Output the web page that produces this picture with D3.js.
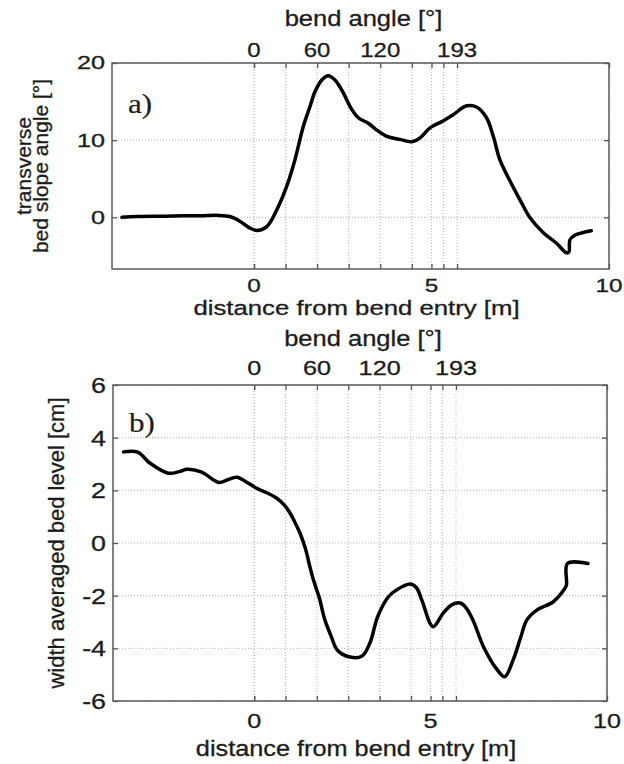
<!DOCTYPE html>
<html>
<head>
<meta charset="utf-8">
<script src="https://cdn.jsdelivr.net/npm/d3@7"></script>
<style>
  body { margin: 0; background: #fff; }
  text { font-family: "Liberation Sans", Arial, Helvetica, sans-serif; fill: #1c1c1c; stroke: #1c1c1c; stroke-width: 0.3px; }
  .tag { font-family: "Liberation Serif", "Times New Roman", serif; stroke-width: 0.2px; }
</style>
</head>
<body>
<div id="chart"></div>
<script>
// a) transverse bed slope angle [deg] vs distance from bend entry [m]
const slopeDist = [-3.72, -3.3, -2.5, -2.0, -1.5, -1.0, -0.68, -0.4, -0.15, 0.08, 0.36, 0.64, 0.92, 1.15, 1.39, 1.58, 1.72, 1.91, 2.09, 2.28, 2.52, 2.7, 2.94, 3.22, 3.46, 3.74, 4.11, 4.44, 4.68, 4.96, 5.29, 5.61, 5.99, 6.27, 6.55, 6.74, 6.93, 7.2, 7.5, 7.78, 8.15, 8.53, 8.8, 8.87, 8.9, 9.05, 9.25, 9.5]
const slopeAngle = [0, 0.1, 0.15, 0.2, 0.2, 0.25, 0.1, -0.5, -1.3, -1.7, -1.2, 0.95, 4.0, 7.4, 11.8, 14.4, 16.3, 17.8, 18.35, 17.8, 16.1, 14.4, 12.9, 12.2, 11.3, 10.5, 10.1, 9.8, 10.3, 11.6, 12.4, 13.3, 14.45, 14.3, 12.9, 10.5, 7.4, 4.8, 2.2, -0.1, -2.0, -3.4, -4.6, -4.5, -2.9, -2.3, -2.0, -1.75]

// b) width averaged bed level [cm]
const bedDist = [-3.7, -3.3, -2.95, -2.43, -2.1, -1.9, -1.5, -1.0, -0.75, -0.49, -0.2, 0.07, 0.37, 0.64, 0.85, 1.02, 1.15, 1.3, 1.45, 1.58, 1.68, 1.85, 2.0, 2.2, 2.35, 2.63, 3.05, 3.28, 3.5, 3.8, 4.04, 4.42, 4.6, 4.75, 5.07, 5.36, 5.6, 5.84, 6.0, 6.2, 6.5, 6.88, 7.1, 7.34, 7.55, 7.73, 8.02, 8.47, 8.78, 8.85, 8.88, 9.46]
const bedLevel = [3.46, 3.45, 3.03, 2.65, 2.72, 2.8, 2.7, 2.3, 2.4, 2.5, 2.3, 2.08, 1.9, 1.7, 1.45, 1.13, 0.8, 0.37, -0.2, -0.9, -1.4, -2.1, -2.9, -3.6, -4.06, -4.3, -4.3, -3.8, -2.8, -2.05, -1.78, -1.56, -1.7, -2.16, -3.18, -2.66, -2.35, -2.28, -2.45, -2.92, -3.94, -4.8, -5.08, -4.44, -3.6, -2.92, -2.54, -2.24, -1.78, -1.6, -0.78, -0.78]

const distTicks = [0, 5, 10]
const angleTicks = [0, 30, 60, 90, 120, 150, 180, 193]
const angleLabels = [0, 60, 120, 193]
const bendLength = 5.72   // metres of channel for 193 deg of bend
const slopeTicks = [0, 10, 20]
const bedTicks = [-6, -4, -2, 0, 2, 4, 6]

const width = 624
const height = 764

const svg = d3.select("#chart")
  .append("svg")
  .attr("width", width)
  .attr("height", height)

const angleToDist = d3.scaleLinear().domain([0, 193]).range([0, bendLength])

// text drawn with a horizontal stretch like the scanned figure
function label(g, str, x, y, size, sx, anchor) {
  return g.append("text")
    .attr("transform", `translate(${x},${y}) scale(${sx},1)`)
    .attr("text-anchor", anchor || "middle")
    .style("font-size", size + "px")
    .text(str)
}

function drawPanel(p) {
  const g = svg.append("g")

  const x = d3.scaleLinear().domain([-4, 10]).range([p.left, p.right])
  const y = d3.scaleLinear().domain(p.yDomain).range([p.bottom, p.top])

  const tickVals = angleTicks.map(angleToDist).concat(distTicks)

  // dotted grid
  g.selectAll("line.vgrid")
    .data(tickVals)
    .join("line")
    .attr("class", "vgrid")
    .attr("x1", d => x(d)).attr("x2", d => x(d))
    .attr("y1", p.top).attr("y2", p.bottom)
    .attr("stroke", "#b5b5b5")
    .attr("stroke-width", 1)
    .attr("stroke-dasharray", "1,2")

  g.selectAll("line.hgrid")
    .data(p.yTicks)
    .join("line")
    .attr("class", "hgrid")
    .attr("x1", p.left).attr("x2", p.right)
    .attr("y1", d => y(d)).attr("y2", d => y(d))
    .attr("stroke", "#b5b5b5")
    .attr("stroke-width", 1)
    .attr("stroke-dasharray", "1,2")

  // inward ticks on all four sides
  const bottomAxis = d3.axisBottom(x).tickValues(tickVals).tickSizeInner(-5).tickSizeOuter(0).tickFormat("")
  const topAxis = d3.axisTop(x).tickValues(tickVals).tickSizeInner(-5).tickSizeOuter(0).tickFormat("")
  const leftAxis = d3.axisLeft(y).tickValues(p.yTicks).tickSizeInner(-5).tickSizeOuter(0).tickFormat("")
  const rightAxis = d3.axisRight(y).tickValues(p.yTicks).tickSizeInner(-5).tickSizeOuter(0).tickFormat("")

  g.append("g").attr("transform", `translate(0,${p.bottom})`).call(bottomAxis)
  g.append("g").attr("transform", `translate(0,${p.top})`).call(topAxis)
  g.append("g").attr("transform", `translate(${p.left},0)`).call(leftAxis)
  g.append("g").attr("transform", `translate(${p.right},0)`).call(rightAxis)
  g.selectAll(".domain").remove()
  g.selectAll(".tick line").attr("stroke", "#555").attr("stroke-width", 1.3)

  g.append("rect")
    .attr("x", p.left).attr("y", p.top)
    .attr("width", p.right - p.left).attr("height", p.bottom - p.top)
    .attr("fill", "none")
    .attr("stroke", "#5a5a5a")
    .attr("stroke-width", 1.5)

  // tick labels
  distTicks.forEach(d => label(g, d, x(d), p.xLabelY, p.xTickSize, p.xTickSx))
  angleLabels.forEach(a => label(g, a, x(angleToDist(a)), p.angleLabelY, p.angleSize, 1.2))
  p.yTicks.forEach(v => label(g, v, p.left - 7, y(v) + p.yTickSize * 0.36, p.yTickSize, p.yTickSx, "end"))

  // titles
  label(g, "bend angle [\u00b0]", (p.left + p.right) / 2 + 3, p.angleTitleY, 22, 1.16)
  label(g, "distance from bend entry [m]", (p.left + p.right) / 2 - 4, p.xTitleY, p.xTitleSize, p.xTitleSx)

  p.yTitle.forEach(t => {
    g.append("text")
      .attr("transform", `translate(${t.x},${(p.top + p.bottom) / 2}) rotate(-90)`)
      .attr("text-anchor", "middle")
      .style("font-size", p.yTitleSize + "px")
      .text(t.text)
  })

  g.append("text")
    .attr("class", "tag")
    .attr("transform", `translate(${p.left + 16},${p.tagY}) scale(1.15,1)`)
    .style("font-size", "27px")
    .text(p.tag)

  // the data line
  const line = d3.line()
    .x(d => x(d[0]))
    .y(d => y(d[1]))
    .curve(d3.curveCatmullRom.alpha(0.5))

  g.append("path")
    .datum(d3.zip(p.xs, p.ys))
    .attr("d", line)
    .attr("fill", "none")
    .attr("stroke", "#000")
    .attr("stroke-width", 3.5)
    .attr("stroke-linejoin", "round")
    .attr("stroke-linecap", "round")
}

drawPanel({
  left: 112, right: 609, top: 63, bottom: 269,
  yDomain: [-6.7, 20], yTicks: slopeTicks,
  xs: slopeDist, ys: slopeAngle,
  xLabelY: 292, xTickSize: 18, xTickSx: 1.35,
  angleLabelY: 57, angleSize: 20, angleTitleY: 26,
  yTickSize: 18, yTickSx: 1.4,
  xTitleY: 315, xTitleSize: 19.5, xTitleSx: 1.32,
  yTitle: [{ text: "transverse", x: 31 }, { text: "bed slope angle [\u00b0]", x: 48 }],
  yTitleSize: 21,
  tag: "a)", tagY: 113
})

drawPanel({
  left: 113, right: 607, top: 385, bottom: 701,
  yDomain: [-6, 6], yTicks: bedTicks,
  xs: bedDist, ys: bedLevel,
  xLabelY: 728, xTickSize: 21, xTickSx: 1.2,
  angleLabelY: 375, angleSize: 21, angleTitleY: 346,
  yTickSize: 22, yTickSx: 1.22,
  xTitleY: 756, xTitleSize: 22, xTitleSx: 1.15,
  yTitle: [{ text: "width averaged bed level [cm]", x: 64 }],
  yTitleSize: 22,
  tag: "b)", tagY: 432
})
</script>
</body>
</html>
